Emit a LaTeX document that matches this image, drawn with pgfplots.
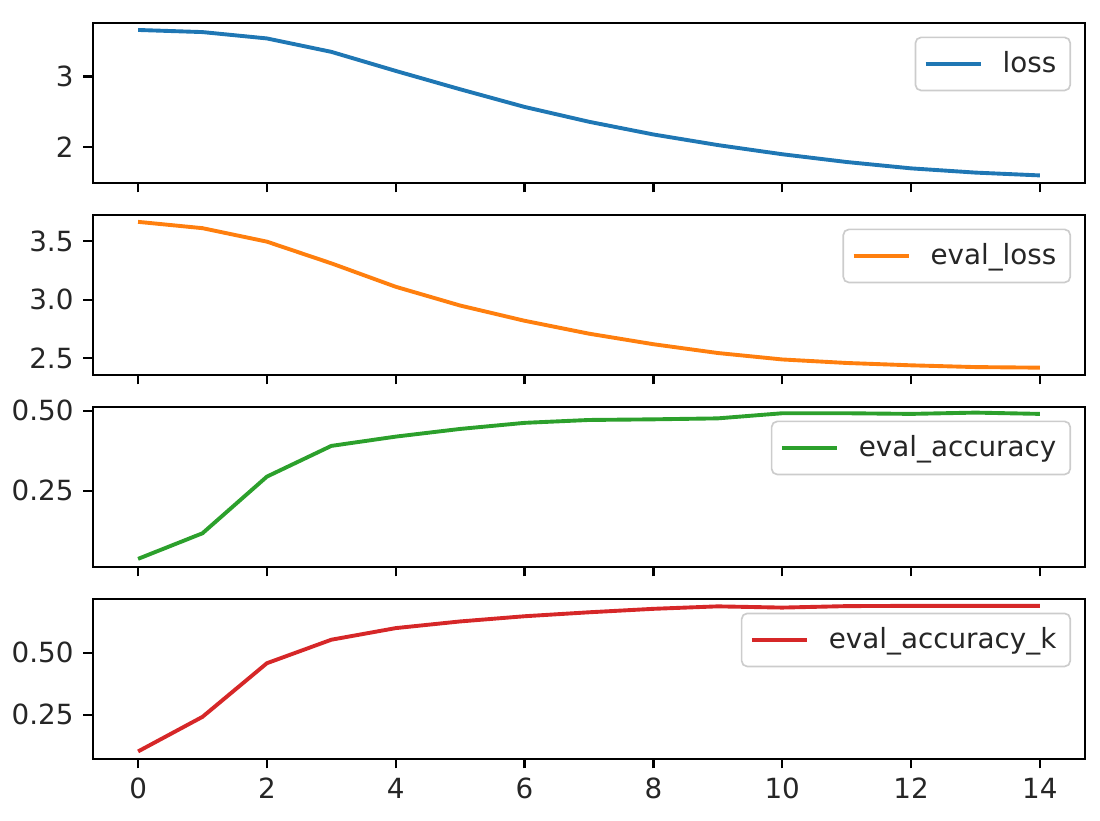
\documentclass[border=0pt]{standalone}
\usepackage{fontspec}
\setmainfont{DejaVu Sans}
\usepackage{pgfplots}
\pgfplotsset{compat=1.18}
\definecolor{cA}{HTML}{1F77B4}
\definecolor{cB}{HTML}{FF7F0E}
\definecolor{cC}{HTML}{2CA02C}
\definecolor{cD}{HTML}{D62728}
\pgfplotsset{
  panel/.style={
    scale only axis, width=357.1pt, height=57.6pt, anchor=south west,
    xmin=-0.7, xmax=14.7,
    xtick={0,2,...,14},
    xtick pos=bottom, ytick pos=left,
    tick align=outside, major tick length=3.5pt,
    every tick/.style={black, line width=0.8pt},
    axis line style={line width=0.8pt, black},
    ticklabel style={font=\fontsize{10}{12}\selectfont, text=black!85},
    /pgf/number format/assume math mode=true,
    legend cell align=left,
    legend image code/.code={\draw[##1] (0pt,0pt) -- (20pt,0pt);},
    legend style={at={(1,1)}, anchor=north east, xshift=-5pt, yshift=-5pt,
      draw=black!20, line width=0.6pt, fill=white, fill opacity=0.8, text opacity=1, draw opacity=1,
      rounded corners=2pt, inner xsep=3pt, inner ysep=3pt,
      font=\fontsize{10}{12}\selectfont, text=black!85},
    every axis plot/.append style={line width=1.4pt},
  },
}
\begin{document}
\begin{tikzpicture}
\path[use as bounding box] (0,0) rectangle (396pt,295.2pt);
% panel 1: loss
\begin{axis}[panel, at={(33.48pt,229.43pt)}, ymin=1.497, ymax=3.763,
  ytick={2,3}, yticklabels={2,3}, xticklabels={}]
\addplot[cA, no marks] coordinates {
(0,3.66)(1,3.63)(2,3.54)(3,3.35)(4,3.08)(5,2.82)(6,2.57)(7,2.36)(8,2.18)(9,2.03)(10,1.90)(11,1.79)(12,1.70)(13,1.64)(14,1.60)};
\addlegendentry{\hspace{5pt}loss}
\end{axis}
% panel 2: eval_loss
\begin{axis}[panel, at={(33.48pt,160.31pt)}, ymin=2.36, ymax=3.725,
  ytick={2.5,3.0,3.5}, yticklabels={2.5,3.0,3.5}, xticklabels={}]
\addplot[cB, no marks] coordinates {
(0,3.664)(1,3.61)(2,3.495)(3,3.31)(4,3.11)(5,2.95)(6,2.82)(7,2.71)(8,2.62)(9,2.545)(10,2.49)(11,2.46)(12,2.44)(13,2.425)(14,2.42)};
\addlegendentry{\hspace{5pt}eval\_loss}
\end{axis}
% panel 3: eval_accuracy
\begin{axis}[panel, at={(33.48pt,91.19pt)}, ymin=0.0125, ymax=0.5125,
  ytick={0.25,0.5}, yticklabels={0.25,0.50}, xticklabels={}]
\addplot[cC, no marks] coordinates {
(0,0.037)(1,0.117)(2,0.294)(3,0.390)(4,0.419)(5,0.443)(6,0.462)(7,0.471)(8,0.473)(9,0.476)(10,0.492)(11,0.492)(12,0.490)(13,0.494)(14,0.490)};
\addlegendentry{\hspace{5pt}eval\_accuracy}
\end{axis}
% panel 4: eval_accuracy_k
\begin{axis}[panel, at={(33.48pt,22.07pt)}, ymin=0.0716, ymax=0.719,
  ytick={0.25,0.5}, yticklabels={0.25,0.50},
  xticklabels={0,2,4,6,8,10,12,14}]
\addplot[cD, no marks] coordinates {
(0,0.101)(1,0.241)(2,0.458)(3,0.553)(4,0.600)(5,0.627)(6,0.648)(7,0.664)(8,0.678)(9,0.688)(10,0.683)(11,0.689)(12,0.690)(13,0.690)(14,0.690)};
\addlegendentry{\hspace{5pt}eval\_accuracy\_k}
\end{axis}
\end{tikzpicture}
\end{document}
